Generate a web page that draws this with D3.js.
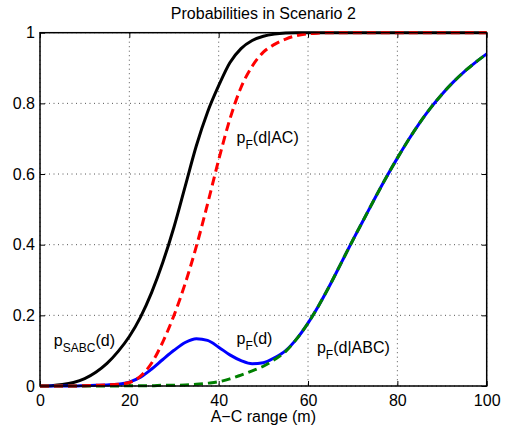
<!DOCTYPE html>
<html>
<head>
<meta charset="utf-8">
<script src="https://cdn.jsdelivr.net/npm/d3@7/dist/d3.min.js"></script>
<style>
  body { margin: 0; background: #fff; }
  svg text { font-family: "Liberation Sans", Arial, sans-serif; }
</style>
</head>
<body>
<div id="chart"></div>
<script>
// A-C range samples (m)
var xs = [0, 2.5, 5, 7.5, 10, 12.5, 15, 17.5, 20, 22.5, 25, 27.5, 30, 32.5, 35, 37.5, 40,
  42.5, 45, 47.5, 50, 52.5, 55, 57.5, 60, 62.5, 65, 67.5, 70, 72.5, 75, 77.5, 80,
  82.5, 85, 87.5, 90, 92.5, 95, 97.5, 100];

// p_SABC(d) - black solid
var pSABC = [0, 0.001, 0.004, 0.01, 0.021, 0.039, 0.064, 0.098, 0.14, 0.195, 0.265, 0.35,
  0.45, 0.565, 0.68, 0.775, 0.85, 0.915, 0.955, 0.978, 0.99, 0.996, 0.999, 1, 1, 1, 1,
  1, 1, 1, 1, 1, 1, 1, 1, 1, 1, 1, 1, 1, 1];

// p_F(d|AC) - red dashed
var pAC = [0, 0, 0, 0, 0.001, 0.002, 0.003, 0.005, 0.01, 0.028, 0.065, 0.125, 0.2, 0.29,
  0.395, 0.515, 0.64, 0.755, 0.845, 0.905, 0.945, 0.967, 0.982, 0.992, 0.997, 0.999, 1,
  1, 1, 1, 1, 1, 1, 1, 1, 1, 1, 1, 1, 1, 1];

// p_F(d) - blue solid
var pF = [0, 0, 0, 0, 0.001, 0.002, 0.003, 0.005, 0.011, 0.025, 0.048, 0.075, 0.101, 0.123,
  0.134, 0.129, 0.11, 0.088, 0.072, 0.063, 0.066, 0.08, 0.1, 0.134, 0.178, 0.23, 0.288,
  0.35, 0.412, 0.472, 0.532, 0.59, 0.645, 0.697, 0.745, 0.788, 0.826, 0.86, 0.89, 0.916, 0.94];

// p_F(d|ABC) - green dashed
var pABC = [0, 0, 0, 0, 0, 0, 0, 0, 0.001, 0.001, 0.001, 0.002, 0.002, 0.003, 0.005, 0.008,
  0.012, 0.02, 0.031, 0.043, 0.056, 0.075, 0.098, 0.134, 0.178, 0.23, 0.288, 0.35, 0.412,
  0.472, 0.532, 0.59, 0.645, 0.697, 0.745, 0.788, 0.826, 0.86, 0.89, 0.916, 0.94];

var xTicks = [0, 20, 40, 60, 80, 100];
var yTicks = [0, 0.2, 0.4, 0.6, 0.8, 1];

var width = 508, height = 430;
// note: "top" is taken by window.top, so use other names
var plotLeft = 40, plotRight = 486.7, plotTop = 32.7, plotBottom = 386;

var svg = d3.select("#chart")
	.append("svg")
	.attr("width", width)
	.attr("height", height);

var x = d3.scaleLinear().domain([0, 100]).range([plotLeft, plotRight]);
var y = d3.scaleLinear().domain([0, 1]).range([plotBottom, plotTop]);

// dotted grid
svg.append("g").selectAll("line")
	.data(xTicks)
	.enter().append("line")
	.attr("x1", function(d) { return x(d); })
	.attr("x2", function(d) { return x(d); })
	.attr("y1", plotTop)
	.attr("y2", plotBottom)
	.style("stroke", "#555")
	.style("stroke-width", 1)
	.style("stroke-dasharray", "1,3.5");

svg.append("g").selectAll("line")
	.data(yTicks)
	.enter().append("line")
	.attr("x1", plotLeft)
	.attr("x2", plotRight)
	.attr("y1", function(d) { return y(d); })
	.attr("y2", function(d) { return y(d); })
	.style("stroke", "#555")
	.style("stroke-width", 1)
	.style("stroke-dasharray", "1,3.5");

// axes with inward ticks
svg.append("g")
	.attr("transform", "translate(0," + plotBottom + ")")
	.call(d3.axisBottom(x).tickValues(xTicks).tickSizeInner(-5).tickSizeOuter(0).tickPadding(8.5));
svg.append("g")
	.attr("transform", "translate(0," + plotTop + ")")
	.call(d3.axisTop(x).tickValues(xTicks).tickSizeInner(-5).tickSizeOuter(0).tickFormat(""));
svg.append("g")
	.attr("transform", "translate(" + plotLeft + ",0)")
	.call(d3.axisLeft(y).tickValues(yTicks).tickSizeInner(-5).tickSizeOuter(0).tickPadding(5)
		.tickFormat(function(d) { return String(d); }));
svg.append("g")
	.attr("transform", "translate(" + plotRight + ",0)")
	.call(d3.axisRight(y).tickValues(yTicks).tickSizeInner(-5).tickSizeOuter(0).tickFormat(""));

svg.selectAll(".domain").remove();
svg.selectAll(".tick line").style("stroke", "#000").style("stroke-width", 1);
svg.selectAll(".tick text")
	.style("font-size", "16px")
	.style("fill", "#000")
	.style("font-family", "'Liberation Sans', Arial, sans-serif");

// curves
var line = d3.line()
	.x(function(d) { return x(d[0]); })
	.y(function(d) { return y(d[1]); })
	.curve(d3.curveMonotoneX);

function pairs(vals) {
	return xs.map(function(v, i) { return [v, vals[i]]; });
}

var series = [
	{ vals: pSABC, color: "#000000", dash: null },
	{ vals: pF, color: "#0000ff", dash: null },
	{ vals: pABC, color: "#008000", dash: "9,5" },
	{ vals: pAC, color: "#ff0000", dash: "9,5" }
];

series.forEach(function(s) {
	svg.append("path")
		.datum(pairs(s.vals))
		.attr("d", line)
		.style("fill", "none")
		.style("stroke", s.color)
		.style("stroke-width", 3)
		.style("stroke-dasharray", s.dash);
});

// box
svg.append("rect")
	.attr("x", plotLeft)
	.attr("y", plotTop)
	.attr("width", plotRight - plotLeft)
	.attr("height", plotBottom - plotTop)
	.style("fill", "none")
	.style("stroke", "#000")
	.style("stroke-width", 1.5);

// title and axis label
svg.append("text")
	.text("Probabilities in Scenario 2")
	.attr("x", (plotLeft + plotRight) / 2)
	.attr("y", 19)
	.attr("text-anchor", "middle")
	.style("font-size", "16px");

svg.append("text")
	.text("A\u2212C range (m)")
	.attr("x", (plotLeft + plotRight) / 2)
	.attr("y", 422)
	.attr("text-anchor", "middle")
	.style("font-size", "16px");

// curve labels: p with subscript
function label(px, py, sub, rest) {
	var t = svg.append("text")
		.attr("x", x(px))
		.attr("y", y(py))
		.style("font-size", "16px");
	t.append("tspan").text("p");
	t.append("tspan").text(sub).attr("dy", 6).style("font-size", "12px");
	t.append("tspan").text(rest).attr("dy", -6);
}

label(3.1, 0.113, "SABC", "(d)");
label(44, 0.688, "F", "(d|AC)");
label(44, 0.12, "F", "(d)");
label(62, 0.093, "F", "(d|ABC)");
</script>
</body>
</html>
